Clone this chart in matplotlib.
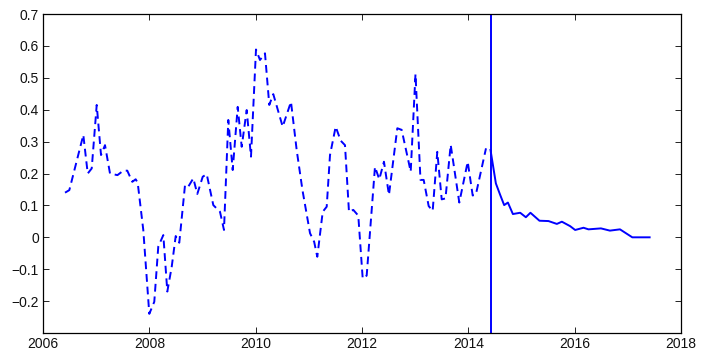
import numpy as np
import matplotlib
matplotlib.use('Agg')
import matplotlib.pyplot as plt

plt.rcParams['font.family'] = ['Liberation Sans', 'DejaVu Sans']

# history (dashed), decimal years
hist_t = [2006.414, 2006.495, 2006.758, 2006.841, 2006.916, 2007.010, 2007.091, 2007.166,
          2007.260, 2007.400, 2007.510, 2007.585, 2007.679, 2007.743, 2007.781, 2007.886,
          2007.999, 2008.093, 2008.168, 2008.263, 2008.338, 2008.421, 2008.496, 2008.563,
          2008.671, 2008.733, 2008.827, 2008.902, 2009.004, 2009.079, 2009.203, 2009.329,
          2009.404, 2009.485, 2009.568, 2009.662, 2009.737, 2009.831, 2009.912, 2010.006,
          2010.081, 2010.175, 2010.256, 2010.331, 2010.508, 2010.664, 2010.771, 2010.880,
          2011.022, 2011.100, 2011.159, 2011.261, 2011.336, 2011.398, 2011.505, 2011.599,
          2011.680, 2011.755, 2011.836, 2011.930, 2012.013, 2012.088, 2012.244, 2012.325,
          2012.413, 2012.507, 2012.664, 2012.746, 2012.916, 2013.006, 2013.100, 2013.160,
          2013.254, 2013.329, 2013.416, 2013.499, 2013.570, 2013.668, 2013.830, 2013.988,
          2014.082, 2014.144, 2014.332]
hist_v = [0.140, 0.148, 0.321, 0.200, 0.216, 0.415, 0.258, 0.289,
          0.200, 0.195, 0.209, 0.209, 0.174, 0.182, 0.171, 0.023,
          -0.240, -0.202, -0.029, 0.007, -0.170, -0.092, 0.004, -0.017,
          0.164, 0.159, 0.185, 0.136, 0.190, 0.198, 0.101, 0.080,
          0.023, 0.368, 0.211, 0.409, 0.284, 0.399, 0.253, 0.589,
          0.556, 0.577, 0.415, 0.449, 0.347, 0.425, 0.274, 0.148,
          0.013, -0.014, -0.061, 0.080, 0.096, 0.258, 0.347, 0.303,
          0.289, 0.080, 0.086, 0.068, -0.129, -0.120, 0.221, 0.182,
          0.237, 0.133, 0.342, 0.337, 0.206, 0.512, 0.180, 0.180,
          0.098, 0.083, 0.268, 0.119, 0.122, 0.290, 0.109, 0.237,
          0.131, 0.136, 0.279]

# forecast (solid)
fc_t = [2014.417, 2014.518, 2014.599, 2014.674, 2014.744, 2014.838, 2014.975, 2015.082,
        2015.168, 2015.338, 2015.507, 2015.665, 2015.759, 2015.915, 2016.009, 2016.166,
        2016.260, 2016.494, 2016.663, 2016.852, 2017.084, 2017.410]
fc_v = [0.274, 0.169, 0.133, 0.101, 0.109, 0.073, 0.077, 0.063,
        0.077, 0.052, 0.051, 0.042, 0.049, 0.035, 0.023, 0.030,
        0.025, 0.028, 0.021, 0.025, 0.000, 0.000]

split_t = 2014.417

yticks = [-0.2, -0.1, 0, 0.1, 0.2, 0.3, 0.4, 0.5, 0.6, 0.7]
ylabels = ['\u22120.2', '\u22120.1', '0', '0.1', '0.2', '0.3', '0.4', '0.5', '0.6', '0.7']

fig = plt.figure(figsize=(7.11, 3.52), dpi=100)
ax = fig.add_axes([0.0605, 0.054, 0.8973, 0.906])

ax.plot(hist_t, hist_v, color='b', lw=1.4, linestyle=(0, (4, 2.5)))
ax.plot(fc_t, fc_v, color='b', lw=1.4)
ax.axvline(split_t, color='b', lw=1.4)

ax.set_xlim(2006, 2018)
ax.set_ylim(-0.3, 0.7)
ax.set_xticks(np.arange(2006, 2019, 2))
ax.set_yticks(yticks)
ax.set_yticklabels(ylabels)
ax.tick_params(direction='in', top=True, right=True, length=4, width=0.6,
               labelsize=10, pad=3, labelcolor='#111111')
for s in ax.spines.values():
    s.set_linewidth(0.9)

fig.savefig('out.png', dpi=100)
